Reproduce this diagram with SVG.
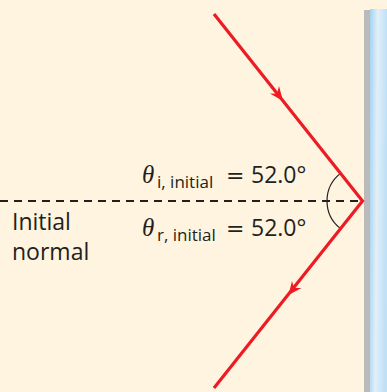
<svg xmlns="http://www.w3.org/2000/svg" width="387" height="392" viewBox="0 0 387 392">
<defs>
<linearGradient id="glass" x1="0" y1="0" x2="1" y2="0.15">
<stop offset="0" stop-color="#a3d3f1"/>
<stop offset="0.45" stop-color="#e2eff9"/>
<stop offset="1" stop-color="#bfe0f5"/>
</linearGradient>
<style>
.ray{stroke:#ed1c24;stroke-width:3.2;fill:none}
.head{fill:#ed1c24}
.txt{font-family:"Open Sans","Noto Sans",sans-serif;fill:#231f20}
.eq{font-family:"DejaVu Sans",sans-serif;fill:#231f20}
.th{font-family:"Liberation Serif",serif;font-style:italic;fill:#231f20}
</style>
</defs>
<rect x="0" y="0" width="387" height="392" fill="#fef4df"/>
<g id="mirror">
<rect x="364" y="10" width="6" height="382" fill="#bababa"/>
<rect x="370" y="9" width="17" height="383" fill="url(#glass)"/>
</g>
<g id="connectors">
<line x1="0" y1="201" x2="362" y2="201" stroke="#231f20" stroke-width="2" stroke-dasharray="8 6"/>
<path d="M340.5 173.4 A35 35 0 0 0 340.5 228.6" fill="none" stroke="#231f20" stroke-width="1.2"/>
<polyline class="ray" points="214,14 362.5,201 214,388"/>
<path class="head" d="M283 101 L270 93.5 L277 93.8 L279 86 Z"/>
<path class="head" d="M288.5 295 L292 281 L294 288 L301.5 288 Z"/>
</g>
<g id="label-incident">
<text class="th" x="142" y="183" font-size="25">θ</text>
<text class="txt" x="157" y="187.5" font-size="17">i, initial</text>
<text class="eq" x="226" y="183" font-size="22">=</text>
<text class="txt" x="251" y="183" font-size="23">52.0°</text>
</g>
<g id="label-reflected">
<text class="th" x="142" y="236" font-size="25">θ</text>
<text class="txt" x="157" y="240.5" font-size="17">r, initial</text>
<text class="eq" x="226" y="236" font-size="22">=</text>
<text class="txt" x="251" y="236" font-size="23">52.0°</text>
</g>
<g id="label-normal">
<text class="txt" x="12" y="230" font-size="23">Initial</text>
<text class="txt" x="12" y="260" font-size="23">normal</text>
</g>
</svg>
